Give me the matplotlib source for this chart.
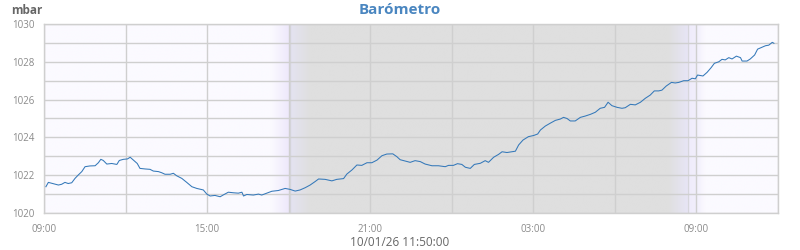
import numpy as np
import pandas as pd
import matplotlib
matplotlib.use("Agg")
import matplotlib.pyplot as plt
import matplotlib.dates as mdates
from matplotlib.colors import to_rgb

# ---------------- data ----------------
start = pd.Timestamp("2026-01-09 09:00")
end_axis = pd.Timestamp("2026-01-10 12:00")
hours_since_start = [
    0.07, 0.16, 0.34, 0.53, 0.65, 0.77, 0.89, 1.02, 1.14, 1.26, 1.39, 1.51, 1.69, 1.88,
    2.00, 2.09, 2.18, 2.31, 2.49, 2.68, 2.77, 2.92, 3.07, 3.17, 3.29, 3.43, 3.53, 3.72,
    3.90, 4.02, 4.21, 4.33, 4.45, 4.64, 4.76, 4.88, 5.07, 5.25, 5.44, 5.62, 5.86, 5.99,
    6.11, 6.29, 6.48, 6.60, 6.78, 6.97, 7.15, 7.28, 7.34, 7.46, 7.70, 7.89, 8.01, 8.20,
    8.38, 8.62, 8.87, 9.05, 9.24, 9.42, 9.61, 9.79, 9.97, 10.10, 10.34, 10.59, 10.77,
    11.02, 11.14, 11.33, 11.51, 11.69, 11.88, 12.06, 12.25, 12.43, 12.61, 12.83, 12.98,
    13.10, 13.29, 13.47, 13.65, 13.84, 14.02, 14.27, 14.51, 14.76, 14.88, 15.06, 15.21,
    15.37, 15.50, 15.68, 15.83, 16.05, 16.23, 16.35, 16.54, 16.72, 16.85, 17.03, 17.34,
    17.46, 17.62, 17.82, 18.01, 18.16, 18.26, 18.44, 18.62, 18.81, 18.99, 19.11, 19.24,
    19.36, 19.54, 19.73, 19.91, 20.10, 20.28, 20.46, 20.62, 20.75, 20.89, 21.08, 21.26,
    21.38, 21.57, 21.75, 21.94, 22.12, 22.30, 22.45, 22.61, 22.73, 22.89, 23.08, 23.22,
    23.35, 23.53, 23.69, 23.84, 23.96, 24.04, 24.24, 24.39, 24.54, 24.66, 24.82, 24.94,
    25.06, 25.19, 25.31, 25.47, 25.62, 25.68, 25.86, 25.98, 26.14, 26.25, 26.39, 26.54,
    26.66, 26.79, 26.85,
]
pressure_mbar = [
    1021.39, 1021.62, 1021.55, 1021.48, 1021.52, 1021.62, 1021.56, 1021.60, 1021.83,
    1022.01, 1022.19, 1022.45, 1022.49, 1022.50, 1022.66, 1022.84, 1022.78, 1022.59,
    1022.62, 1022.57, 1022.78, 1022.84, 1022.86, 1022.95, 1022.80, 1022.62, 1022.36,
    1022.33, 1022.31, 1022.22, 1022.19, 1022.13, 1022.05, 1022.05, 1022.10, 1021.97,
    1021.83, 1021.62, 1021.39, 1021.30, 1021.22, 1021.00, 1020.90, 1020.93, 1020.86,
    1020.96, 1021.10, 1021.07, 1021.05, 1021.10, 1020.90, 1020.98, 1020.95, 1021.00,
    1020.95, 1021.05, 1021.15, 1021.19, 1021.30, 1021.25, 1021.16, 1021.22, 1021.34,
    1021.48, 1021.66, 1021.80, 1021.78, 1021.70, 1021.78, 1021.82, 1022.06, 1022.28,
    1022.54, 1022.52, 1022.66, 1022.66, 1022.80, 1023.03, 1023.12, 1023.13, 1022.98,
    1022.82, 1022.75, 1022.68, 1022.77, 1022.72, 1022.59, 1022.50, 1022.50, 1022.45,
    1022.52, 1022.52, 1022.61, 1022.57, 1022.42, 1022.36, 1022.57, 1022.63, 1022.77,
    1022.68, 1022.95, 1023.10, 1023.24, 1023.20, 1023.27, 1023.60, 1023.86, 1024.04,
    1024.10, 1024.18, 1024.39, 1024.60, 1024.75, 1024.90, 1024.97, 1025.06, 1025.00,
    1024.87, 1024.87, 1025.06, 1025.13, 1025.22, 1025.33, 1025.54, 1025.59, 1025.86,
    1025.68, 1025.59, 1025.54, 1025.57, 1025.75, 1025.72, 1025.86, 1026.07, 1026.24,
    1026.46, 1026.46, 1026.50, 1026.72, 1026.91, 1026.88, 1026.91, 1027.00, 1027.00,
    1027.13, 1027.10, 1027.30, 1027.25, 1027.44, 1027.69, 1027.92, 1028.00, 1028.13,
    1028.10, 1028.22, 1028.15, 1028.30, 1028.22, 1028.04, 1028.04, 1028.15, 1028.36,
    1028.67, 1028.76, 1028.85, 1028.88, 1029.03, 1028.98,
]
sunset = pd.Timestamp("2026-01-09 18:03")
sunrise = pd.Timestamp("2026-01-10 08:41")
title = "Barómetro"
units = "mbar"
stamp = "10/01/26 11:50:00"

# ---------------- plot ----------------
plt.rcParams["font.family"] = ["Open Sans", "DejaVu Sans"]

times = [start + pd.Timedelta(hours=h) for h in hours_since_start]

fig = plt.figure(figsize=(8, 2.5), dpi=100)
ax = fig.add_axes([44 / 800, 1 - 213 / 250, 734 / 800, 189 / 250])

x0 = mdates.date2num(start)
x1 = mdates.date2num(end_axis)
ss = mdates.date2num(sunset)
sr = mdates.date2num(sunrise)
h = 1 / 24.0

day = to_rgb("#fbfaff")
night = to_rgb("#dfdfdf")
stops = [
    (x0, day),
    (ss - 0.70 * h, day),
    (ss - 0.02 * h, to_rgb("#ede8fb")),
    (ss + 0.02 * h, to_rgb("#e4e3f1")),
    (ss + 0.75 * h, night),
    (sr - 0.72 * h, night),
    (sr - 0.02 * h, to_rgb("#e7e5f5")),
    (sr + 0.02 * h, to_rgb("#efecfb")),
    (sr + 0.30 * h, to_rgb("#f1eefc")),
    (sr + 0.65 * h, day),
    (x1, day),
]
sx = np.array([s[0] for s in stops])
grid_x = np.linspace(x0, x1, 1500)
img = np.zeros((1, grid_x.size, 3))
for c in range(3):
    img[0, :, c] = np.interp(grid_x, sx, [s[1][c] for s in stops])
ax.imshow(img, extent=[x0, x1, 1020, 1030], aspect="auto", zorder=0,
          interpolation="bilinear")

ax.set_xlim(x0, x1)
ax.set_ylim(1020, 1030)

grid_c = "#cfcfcf"
ax.xaxis.set_major_locator(mdates.HourLocator(byhour=[3, 9, 15, 21]))
ax.xaxis.set_major_formatter(mdates.DateFormatter("%H:%M"))
ax.xaxis.set_minor_locator(mdates.HourLocator(byhour=range(0, 24, 3)))
ax.yaxis.set_major_locator(plt.MultipleLocator(2))
ax.yaxis.set_minor_locator(plt.MultipleLocator(1))
ax.grid(True, which="both", color=grid_c, linewidth=1.0, zorder=1)
ax.set_axisbelow(False)
for sp in ax.spines.values():
    sp.set_color(grid_c)
    sp.set_linewidth(1.0)
ax.axvline(ss, color="#d6d6dc", linewidth=1.0, zorder=1)
ax.axvline(sr, color="#d6d6dc", linewidth=1.0, zorder=1)

ax.tick_params(which="both", length=0, labelsize=7, colors="#8a8a8a")
ax.tick_params(axis="y", pad=7)
ax.tick_params(axis="x", pad=8)

ax.plot(times, pressure_mbar, color="#3478b9", linewidth=0.75, zorder=3)

fig.text(0.5, 1 - 10 / 250, title, ha="center", va="center", fontsize=11,
         fontweight="bold", color="#4a86c0")
fig.text(11 / 800, 1 - 10 / 250, units, ha="left", va="center", fontsize=8.5,
         fontweight="bold", color="#666666")
fig.text(0.5, 1 - 243 / 250, stamp, ha="center", va="center", fontsize=8.5,
         color="#666666")

fig.savefig("out.png", dpi=100, facecolor="white")
